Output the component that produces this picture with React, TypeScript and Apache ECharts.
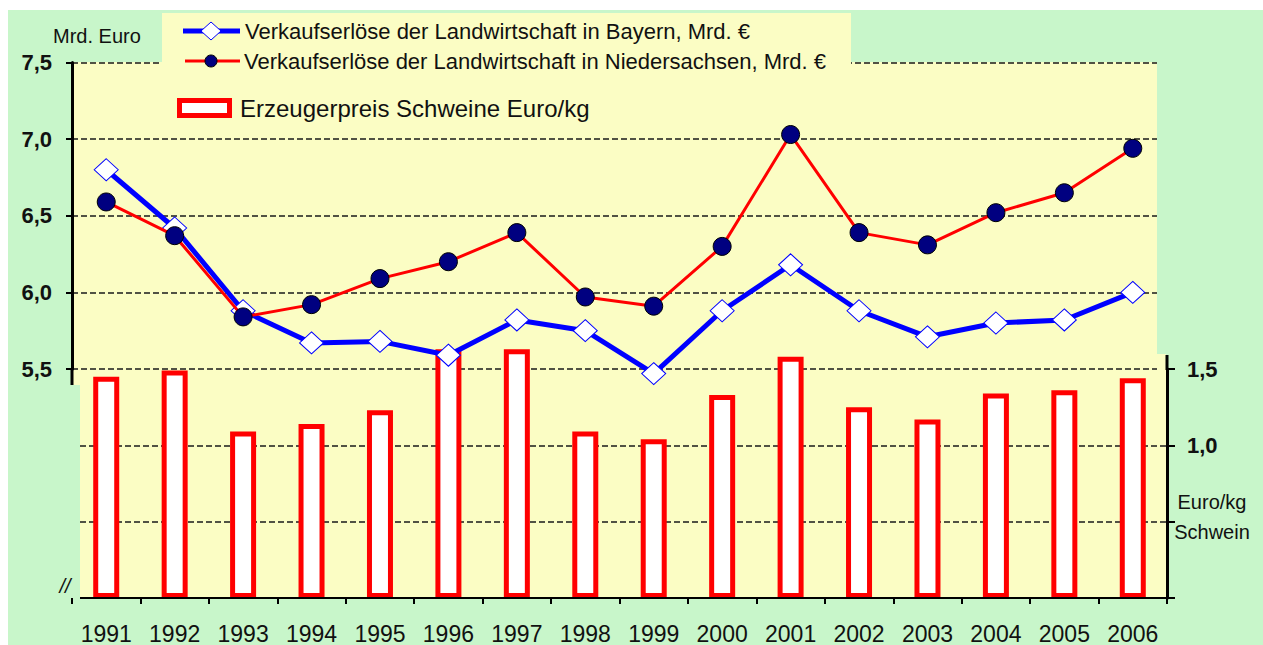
import React, { useEffect, useRef } from "react";
import * as echarts from "echarts";

const years = ["1991", "1992", "1993", "1994", "1995", "1996", "1997", "1998", "1999", "2000", "2001", "2002", "2003", "2004", "2005", "2006"];
const bayern = [6.8, 6.42, 5.88, 5.67, 5.68, 5.59, 5.82, 5.75, 5.47, 5.88, 6.18, 5.88, 5.71, 5.8, 5.82, 6.0];
const niedersachsen = [6.59, 6.37, 5.84, 5.92, 6.09, 6.2, 6.39, 5.97, 5.91, 6.3, 7.03, 6.39, 6.31, 6.52, 6.65, 6.94];
const schweinePreis = [1.45, 1.49, 1.09, 1.14, 1.23, 1.63, 1.63, 1.09, 1.04, 1.33, 1.58, 1.25, 1.17, 1.34, 1.36, 1.44];

const legendBayern = "Verkaufserlöse der Landwirtschaft in Bayern, Mrd. €";
const legendNds = "Verkaufserlöse der Landwirtschaft in Niedersachsen, Mrd. €";
const legendPreis = "Erzeugerpreis Schweine Euro/kg";

const FONT = "'Liberation Sans', Arial, sans-serif";
const fmt = (v: number) => v.toFixed(1).replace(".", ",");
const dashed = { color: "#1a1a1a", width: 1.5, type: [6, 3] as any };

export default function App() {
  const ref = useRef<HTMLDivElement>(null);
  useEffect(() => {
    if (!ref.current) return;
    const chart = echarts.init(ref.current, undefined, { renderer: "svg" });
    const txt = (text: string, x: number, y: number, size: number, opts: any = {}) => ({
      type: "text",
      silent: true,
      z: 20,
      style: {
        text,
        x,
        y,
        font: `${opts.style || "normal"} ${opts.weight || "normal"} ${size}px ${FONT}`,
        fill: "#111",
        align: opts.align || "left",
        textAlign: opts.align || "left",
        verticalAlign: "middle",
        textVerticalAlign: "middle",
      },
    });
    chart.setOption({
      animation: false,
      backgroundColor: "#ffffff",
      textStyle: { fontFamily: FONT },
      grid: [
        { left: 72, top: 62.5, width: 1095, height: 306.5 },
        { left: 72, top: 62.5, width: 1085, height: 306.5 },
        { left: 72, top: 369, width: 1095, height: 229 },
        { left: 80, top: 369, width: 1086, height: 229 },
      ],
      xAxis: [
        { type: "category", gridIndex: 0, data: years, show: false },
        { type: "category", gridIndex: 1, data: years, show: false },
        {
          type: "category",
          gridIndex: 2,
          data: years,
          axisLine: { show: false },
          axisTick: { show: true, length: 6, interval: 0, lineStyle: { color: "#000", width: 2 } },
          axisLabel: { fontSize: 23, color: "#111", margin: 24, interval: 0 },
        },
        { type: "category", gridIndex: 3, data: years, show: false },
      ],
      yAxis: [
        {
          type: "value",
          gridIndex: 0,
          position: "left",
          min: 5.5,
          max: 7.5,
          interval: 0.5,
          axisLine: { show: true, lineStyle: { color: "#000", width: 3 } },
          axisTick: { show: true, length: 6, lineStyle: { color: "#000", width: 2 } },
          axisLabel: { fontSize: 22, fontWeight: "bold", color: "#111", margin: 20, formatter: fmt },
          splitLine: { show: false },
        },
        {
          type: "value",
          gridIndex: 1,
          min: 5.5,
          max: 7.5,
          interval: 0.5,
          axisLine: { show: false },
          axisTick: { show: false },
          axisLabel: { show: false },
          splitLine: { show: true, lineStyle: dashed },
        },
        {
          type: "value",
          gridIndex: 2,
          position: "right",
          min: 0,
          max: 1.5,
          interval: 0.5,
          axisLine: { show: true, lineStyle: { color: "#000", width: 3 } },
          axisTick: { show: true, length: 8, lineStyle: { color: "#000", width: 2 } },
          axisLabel: {
            fontSize: 22,
            fontWeight: "bold",
            color: "#111",
            margin: 20,
            formatter: (v: number) => (v >= 1 ? fmt(v) : ""),
          },
          splitLine: { show: false },
        },
        {
          type: "value",
          gridIndex: 3,
          min: 0,
          max: 1.5,
          interval: 0.5,
          axisLine: { show: false },
          axisTick: { show: false },
          axisLabel: { show: false },
          splitLine: { show: true, showMaxLine: false, lineStyle: dashed },
        },
      ],
      series: [
        {
          name: legendPreis,
          type: "bar",
          xAxisIndex: 2,
          yAxisIndex: 2,
          data: schweinePreis,
          barWidth: 26,
          clip: false,
          z: 2,
          itemStyle: { color: "#ffffff", borderColor: "#ff0000", borderWidth: 5 },
        },
        {
          name: legendBayern,
          type: "line",
          xAxisIndex: 0,
          yAxisIndex: 0,
          data: bayern,
          clip: false,
          z: 3,
          symbol: "diamond",
          symbolSize: [24, 22],
          lineStyle: { color: "#0000ff", width: 5 },
          itemStyle: { color: "#ffffff", borderColor: "#0000ff", borderWidth: 1 },
        },
        {
          name: legendNds,
          type: "line",
          xAxisIndex: 0,
          yAxisIndex: 0,
          data: niedersachsen,
          clip: false,
          z: 4,
          symbol: "circle",
          symbolSize: 18,
          lineStyle: { color: "#ff0000", width: 3 },
          itemStyle: { color: "#000080", borderColor: "#000", borderWidth: 1 },
        },
      ],
      graphic: [
        { type: "rect", silent: true, z: -10, shape: { x: 8, y: 10, width: 1255, height: 635 }, style: { fill: "#c8f6ca" } },
        { type: "rect", silent: true, z: -9, shape: { x: 73, y: 62, width: 1084, height: 323 }, style: { fill: "#fbfdc4" } },
        { type: "rect", silent: true, z: -9, shape: { x: 80, y: 354, width: 1086, height: 244 }, style: { fill: "#fbfdc4" } },
        { type: "rect", silent: true, z: 8, shape: { x: 162, y: 13, width: 689, height: 57 }, style: { fill: "#fbfdc4" } },
        { type: "line", silent: true, z: 5, shape: { x1: 72, y1: 368, x2: 72, y2: 385 }, style: { stroke: "#000", lineWidth: 3 } },
        { type: "line", silent: true, z: 5, shape: { x1: 1167, y1: 355, x2: 1167, y2: 370 }, style: { stroke: "#000", lineWidth: 3 } },
        { type: "line", silent: true, z: 5, shape: { x1: 80, y1: 598, x2: 1168, y2: 598 }, style: { stroke: "#000", lineWidth: 2 } },
        { type: "line", silent: true, z: 10, shape: { x1: 183, y1: 31, x2: 240, y2: 31 }, style: { stroke: "#0000ff", lineWidth: 5 } },
        {
          type: "polygon",
          silent: true,
          z: 11,
          shape: { points: [[211, 22], [221, 31], [211, 40], [201, 31]] },
          style: { fill: "#ffffff", stroke: "#0000ff", lineWidth: 1 },
        },
        txt(legendBayern, 245, 31, 22),
        { type: "line", silent: true, z: 10, shape: { x1: 185, y1: 61, x2: 240, y2: 61 }, style: { stroke: "#ff0000", lineWidth: 3 } },
        { type: "circle", silent: true, z: 11, shape: { cx: 211, cy: 61, r: 6 }, style: { fill: "#000080", stroke: "#000", lineWidth: 1 } },
        txt(legendNds, 244, 61, 22),
        {
          type: "rect",
          silent: true,
          z: 10,
          shape: { x: 179.5, y: 100.5, width: 50, height: 15 },
          style: { fill: "#ffffff", stroke: "#ff0000", lineWidth: 5 },
        },
        txt(legendPreis, 240, 108, 24),
        txt("Mrd. Euro", 53, 36, 20),
        txt("Euro/kg", 1212, 502, 20, { align: "center" }),
        txt("Schwein", 1212, 532, 20, { align: "center" }),
        txt("//", 65, 586, 20, { align: "center", style: "italic" }),
      ],
    });
    return () => chart.dispose();
  }, []);
  return <div ref={ref} style={{ position: "fixed", left: 0, top: 0, width: 1263, height: 645 }} />;
}
